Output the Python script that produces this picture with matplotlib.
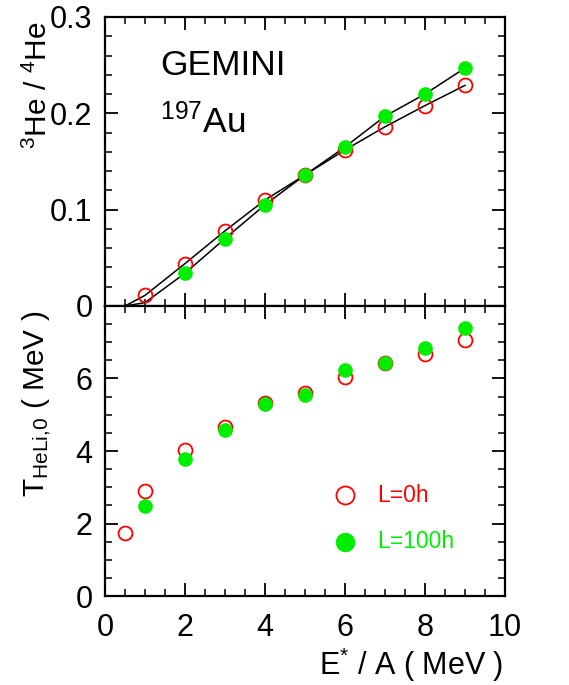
import matplotlib
matplotlib.use("Agg")
import matplotlib.pyplot as plt
from matplotlib.ticker import MultipleLocator

plt.rcParams['font.family'] = ['Liberation Sans', 'DejaVu Sans']
plt.rcParams['mathtext.fontset'] = 'custom'
plt.rcParams['mathtext.rm'] = 'Liberation Sans'
plt.rcParams['mathtext.it'] = 'Liberation Sans:italic'
plt.rcParams['mathtext.bf'] = 'Liberation Sans:bold'

RED = '#ff0000'
GREEN = '#00ee00'

# 3He/4He ratio versus excitation energy per nucleon (GEMINI, 197Au)
ratio_x_L0 = [1, 2, 3, 4, 5, 6, 7, 8, 9]
ratio_L0 = [0.011, 0.044, 0.078, 0.110, 0.136, 0.162, 0.186, 0.208, 0.229]
ratio_x_L100 = [2, 3, 4, 5, 6, 7, 8, 9]
ratio_L100 = [0.034, 0.070, 0.105, 0.136, 0.165, 0.197, 0.220, 0.247]

# smooth curves through the calculated ratios
curve_x = [0.5, 1, 2, 3, 4, 5, 6, 7, 8, 9]
curve_L0 = [0.0, 0.011, 0.044, 0.078, 0.110, 0.136, 0.162, 0.186, 0.208, 0.229]
curve_L100 = [0.0, 0.0035, 0.034, 0.070, 0.105, 0.136, 0.165, 0.197, 0.220, 0.247]

# HeLi isotope temperature
temp_x_L0 = [0.5, 1, 2, 3, 4, 5, 6, 7, 8, 9]
temp_L0 = [1.73, 2.91, 4.04, 4.66, 5.33, 5.61, 6.05, 6.44, 6.67, 7.06]
temp_x_L100 = [1, 2, 3, 4, 5, 6, 7, 8, 9]
temp_L100 = [2.47, 3.79, 4.57, 5.30, 5.55, 6.23, 6.42, 6.83, 7.39]

legend_labels = ['L=0h', 'L=100h']

fig = plt.figure(figsize=(5.69, 6.85), dpi=100)
ax1 = fig.add_axes([0.1845, 0.5533, 0.703, 0.4219])
ax2 = fig.add_axes([0.1845, 0.1299, 0.703, 0.4234])

FS = 22

for ax in (ax1, ax2):
    for sp in ax.spines.values():
        sp.set_linewidth(1.6)
    ax.set_xlim(0, 10)
    ax.xaxis.set_major_locator(MultipleLocator(2))
    ax.xaxis.set_minor_locator(MultipleLocator(0.5))
    ax.tick_params(which='both', direction='in', top=True, right=True,
                   labelsize=FS)
    ax.tick_params(which='major', length=9.5, width=1.3, pad=9)
    ax.tick_params(which='minor', length=5, width=1.1)
    ax.tick_params(axis='x', which='major', pad=12)

# upper panel
ax1.set_ylim(0, 0.3)
ax1.set_yticks([0, 0.1, 0.2, 0.3])
ax1.set_yticklabels(['0', '0.1', '0.2', '0.3'])
ax1.yaxis.set_minor_locator(MultipleLocator(0.02))
ax1.tick_params(axis='x', labelbottom=False)

ax1.plot(curve_x, curve_L0, color='black', lw=1.1, zorder=2)
ax1.plot(curve_x, curve_L100, color='black', lw=1.1, zorder=2)
ax1.plot(ratio_x_L0, ratio_L0, 'o', ms=10, mfc='none', mec=RED, mew=1.3,
         zorder=3, clip_on=False)
ax1.plot(ratio_x_L100, ratio_L100, 'o', ms=9.5, mfc=GREEN, mec=GREEN,
         zorder=4, clip_on=False)

ax1.text(0.137, 0.80, 'GEMINI', transform=ax1.transAxes, fontsize=25.5,
         ha='left', va='baseline')
ax1.text(0.137, 0.60, r'$^{197}$Au', transform=ax1.transAxes, fontsize=25.5,
         ha='left', va='baseline')

ax1.set_ylabel(r'$^{3}$He / $^{4}$He', fontsize=21.5, loc='top')
ax1.yaxis.set_label_coords(-0.13, 0.985)

# lower panel
ax2.set_ylim(0, 8)
ax2.set_yticks([0, 2, 4, 6])
ax2.yaxis.set_minor_locator(MultipleLocator(0.5))

ax2.plot(temp_x_L0, temp_L0, 'o', ms=10, mfc='none', mec=RED, mew=1.3,
         zorder=3, clip_on=False)
ax2.plot(temp_x_L100, temp_L100, 'o', ms=9.5, mfc=GREEN, mec=GREEN,
         zorder=4, clip_on=False)

# key
ax2.plot([0.6], [0.348], 'o', ms=13, mfc='none', mec=RED, mew=1.3,
         transform=ax2.transAxes)
ax2.plot([0.6], [0.187], 'o', ms=13, mfc=GREEN, mec=GREEN,
         transform=ax2.transAxes)
ax2.text(0.68, 0.348, legend_labels[0], color=RED, fontsize=16.5,
         transform=ax2.transAxes, ha='left', va='center')
ax2.text(0.68, 0.187, legend_labels[1], color=GREEN, fontsize=16.5,
         transform=ax2.transAxes, ha='left', va='center')

ax2.set_ylabel(r'T$_{\mathrm{HeLi{,}0}}$ ( MeV )', fontsize=21.5, loc='top')
ax2.yaxis.set_label_coords(-0.13, 0.985)
ax2.set_xlabel(r'E$^{*}$ / A ( MeV )', fontsize=FS, loc='right')
ax2.xaxis.set_label_coords(0.995, -0.17)

fig.savefig('out.png', dpi=100)
